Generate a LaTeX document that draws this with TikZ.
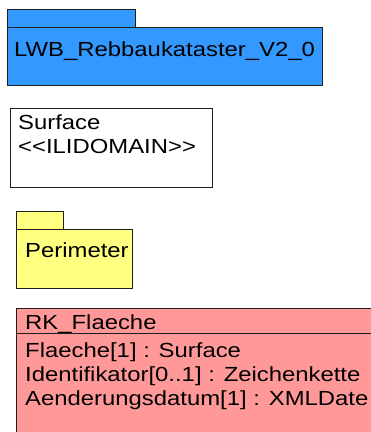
\documentclass[tikz,border=0pt]{standalone}
\usepackage{fontspec}
\setmainfont{Liberation Sans}[FakeStretch=1.17]
\definecolor{pkgblue}{RGB}{51,153,255}
\definecolor{pkgyellow}{RGB}{255,255,128}
\definecolor{clspink}{RGB}{255,153,153}
\definecolor{edge}{RGB}{30,30,30}
\begin{document}
\begin{tikzpicture}[x=1pt,y=-1pt,
  umlbox/.style={draw=edge,line width=1pt},
  lbl/.style={anchor=base west,inner sep=0pt,font=\fontsize{20.4}{24}\selectfont}]
\useasboundingbox (0,0) rectangle (371,432);
\clip (0,0) rectangle (371,432);
% package LWB
\draw[umlbox,fill=pkgblue] (7,9) rectangle (135,27);
\draw[umlbox,fill=pkgblue] (7,27) rectangle (322,85);
\node[lbl] (lwb) at (14,56) {LWB\_Rebbaukataster\_V2\_0};
% Surface domain
\draw[umlbox,fill=white] (10,108) rectangle (212,187);
\node[lbl] (surf) at (18,129) {Surface};
\node[lbl] (surfst) at (18,153) {\textless{}\textless{}ILIDOMAIN\textgreater{}\textgreater{}};
% package Perimeter
\draw[umlbox,fill=pkgyellow] (16,211) rectangle (63,229);
\draw[umlbox,fill=pkgyellow] (16,229) rectangle (132,288);
\node[lbl] (perim) at (25,257) {Perimeter};
% class RK_Flaeche
\draw[umlbox,fill=clspink] (16,308) rectangle (385,445);
\node[lbl] (rk) at (25,329) {RK\_Flaeche};
\draw[umlbox] (16,333) -- (385,333);
\node[lbl] (a1) at (25,357) {Flaeche[1] : Surface};
\node[lbl] (a2) at (25,381) {Identifikator[0..1] : Zeichenkette};
\node[lbl] (a3) at (25,405) {Aenderungsdatum[1] : XMLDate};
\end{tikzpicture}
\end{document}
